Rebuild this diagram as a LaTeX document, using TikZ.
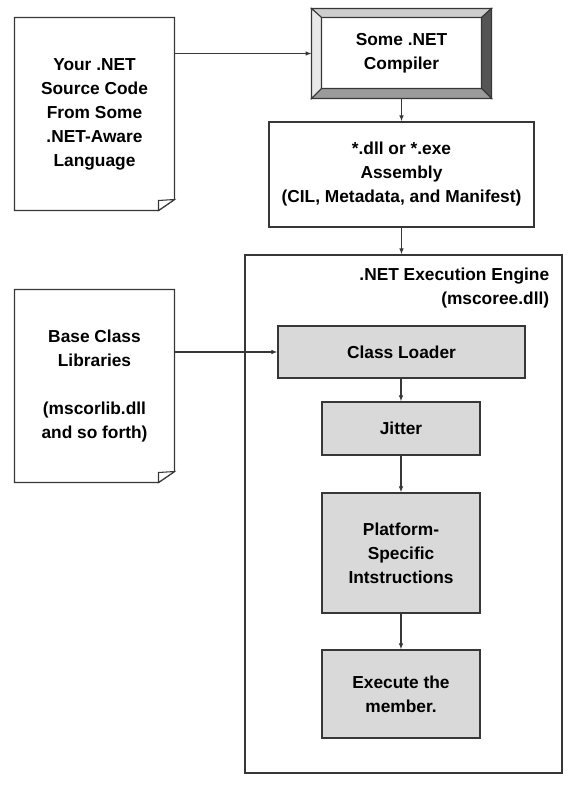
\documentclass[tikz,border=0pt]{standalone}
\usepackage{fontspec}
\setmainfont{Liberation Sans}
\usetikzlibrary{calc,arrows.meta}

\definecolor{edgegray}{RGB}{55,55,55}
\definecolor{stepgray}{RGB}{217,217,217}

\tikzset{every picture/.style={line width=0.75pt}}
\tikzset{
  lbl/.style={font=\fontsize{13}{18}\selectfont\bfseries, align=center, inner sep=0pt},
  pagebox/.style={lbl, minimum width=119.25pt, minimum height=144pt},
  plainbox/.style={lbl, draw=edgegray, line width=1pt, fill=white},
  stepbox/.style={plainbox, fill=stepgray},
  flow/.style={draw=edgegray, line width=0.8pt, -{Latex[length=4.5pt,width=3.5pt]}}
}

% folded page outline round a node
\newcommand{\docpage}[1]{%
  \draw[edgegray, line width=1pt] (#1.north west) -- (#1.north east) -- ($(#1.south east)+(0,-11)$) -- ($(#1.south east)+(-16,0)$) -- (#1.south west) -- cycle;
  \draw[edgegray, line width=0.8pt, fill=white] ($(#1.south east)+(-16,-10)$) -- ($(#1.south east)+(0,-11)$) -- ($(#1.south east)+(-16,0)$) -- cycle;
}

\begin{document}
\begin{tikzpicture}[x=0.75pt,y=0.75pt,yscale=-1,xscale=1]
\useasboundingbox (0,0) rectangle (585,785);

% left pages
\node[pagebox] (src) at (94.5,114) {Your .NET\\Source Code\\From Some\\.NET-Aware\\Language};
\docpage{src}
\node[pagebox] (bcl) at (94.5,386) {Base Class\\Libraries\\[18pt](mscorlib.dll\\and so forth)};
\docpage{bcl}

% compiler, bevelled frame
\node[lbl, minimum width=134.25pt, minimum height=66.75pt] (compiler) at (401.5,53.5) {Some .NET\\Compiler};
\coordinate (ci1) at ($(compiler.north west)+(10,9)$);
\coordinate (ci2) at ($(compiler.north east)+(-10,9)$);
\coordinate (ci3) at ($(compiler.south east)+(-10,-10)$);
\coordinate (ci4) at ($(compiler.south west)+(10,-10)$);
\draw[edgegray, line width=0.8pt, fill={rgb,255:red,205;green,205;blue,205}] (compiler.north west) -- (compiler.north east) -- (ci2) -- (ci1) -- cycle;
\draw[edgegray, line width=0.8pt, fill={rgb,255:red,232;green,232;blue,232}] (compiler.north west) -- (ci1) -- (ci4) -- (compiler.south west) -- cycle;
\draw[edgegray, line width=0.8pt, fill={rgb,255:red,85;green,85;blue,85}] (compiler.north east) -- (compiler.south east) -- (ci3) -- (ci2) -- cycle;
\draw[edgegray, line width=0.8pt, fill={rgb,255:red,155;green,155;blue,155}] (compiler.south west) -- (ci4) -- (ci3) -- (compiler.south east) -- cycle;
\draw[edgegray, line width=1.2pt] (compiler.north west) rectangle (compiler.south east);

% assembly
\node[plainbox, minimum width=198.75pt, minimum height=78.75pt] (assembly) at (401.5,174.5) {*.dll or *.exe\\Assembly\\(CIL, Metadata, and Manifest)};

% execution engine
\node[plainbox, minimum width=237.75pt, minimum height=388.5pt] (engine) at (403.5,514) {};
\node[lbl, align=right, anchor=north east] (enginelbl) at ($(engine.north east)+(-13,13)$) {.NET Execution Engine\\(mscoree.dll)};

\node[stepbox, minimum width=185.25pt, minimum height=39pt] (loader) at (401.5,352) {Class Loader};
\node[stepbox, minimum width=118.5pt, minimum height=39.75pt] (jitter) at (401,428.5) {Jitter};
\node[stepbox, minimum width=118.5pt, minimum height=90pt] (platform) at (401,553) {Platform-\\Specific\\Intstructions};
\node[stepbox, minimum width=118.5pt, minimum height=66pt] (execute) at (401,694) {Execute the\\member.};

% connectors
\draw[flow] (src.north east |- compiler.west) -- (compiler.west);
\draw[flow] (compiler.south) -- (assembly.north);
\draw[flow] (assembly.south) -- (assembly.south |- engine.north);
\draw[flow] (bcl.north east |- loader.west) -- (loader.west);
\draw[flow] (loader.south -| jitter.north) -- (jitter.north);
\draw[flow] (jitter.south) -- (platform.north);
\draw[flow] (platform.south) -- (execute.north);

\end{tikzpicture}
\end{document}
